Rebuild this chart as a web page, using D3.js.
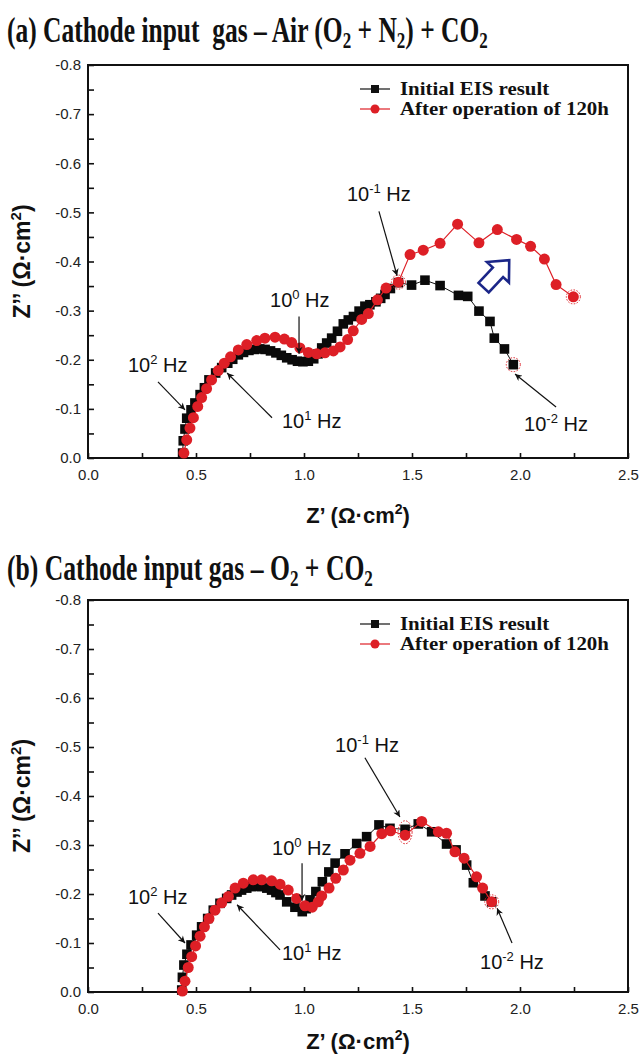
<!DOCTYPE html>
<html><head><meta charset="utf-8">
<script src="https://cdn.jsdelivr.net/npm/d3@7"></script>
<style>
html,body{margin:0;padding:0;background:#fff;}
svg{display:block;}
</style></head>
<body>
<script>
// ---------- DATA ----------
const xTicks = [0, 0.25, 0.5, 0.75, 1.0, 1.25, 1.5, 1.75, 2.0, 2.25, 2.5];
const yTicks = [0, -0.05, -0.1, -0.15, -0.2, -0.25, -0.3, -0.35, -0.4, -0.45, -0.5, -0.55, -0.6, -0.65, -0.7, -0.75, -0.8];
const seriesNames = ["Initial EIS result", "After operation of 120h"];
const freqLabels = ["2", "1", "0", "-1", "-2"];

// Panel (a): Air + CO2
const aInitRe = [0.438,0.441,0.449,0.457,0.477,0.495,0.519,0.539,0.560,0.591,0.619,0.647,0.670,0.696,0.720,0.745,0.770,0.795,0.820,0.845,0.870,0.895,0.920,0.945,0.970,0.995,1.020,1.045,1.065,1.082,1.105,1.128,1.155,1.182,1.205,1.229,1.255,1.282,1.305,1.333,1.355,1.375,1.400,1.437,1.498,1.560,1.630,1.715,1.758,1.810,1.861,1.881,1.928,1.969];
const aInitIm = [-0.010,-0.035,-0.059,-0.081,-0.098,-0.112,-0.129,-0.143,-0.159,-0.173,-0.184,-0.193,-0.201,-0.210,-0.215,-0.219,-0.221,-0.222,-0.221,-0.218,-0.214,-0.209,-0.204,-0.200,-0.197,-0.196,-0.197,-0.202,-0.212,-0.224,-0.234,-0.244,-0.258,-0.273,-0.281,-0.288,-0.299,-0.309,-0.312,-0.318,-0.325,-0.333,-0.345,-0.357,-0.352,-0.362,-0.351,-0.331,-0.329,-0.299,-0.278,-0.244,-0.222,-0.190];
const aAfterRe = [0.444,0.457,0.472,0.488,0.508,0.526,0.549,0.572,0.603,0.631,0.660,0.696,0.735,0.781,0.819,0.866,0.909,0.943,0.981,1.020,1.059,1.097,1.136,1.167,1.202,1.228,1.267,1.298,1.340,1.380,1.437,1.491,1.552,1.630,1.711,1.810,1.895,1.984,2.049,2.113,2.167,2.247];
const aAfterIm = [-0.010,-0.037,-0.061,-0.082,-0.105,-0.123,-0.141,-0.159,-0.178,-0.193,-0.206,-0.220,-0.231,-0.239,-0.244,-0.246,-0.242,-0.235,-0.224,-0.215,-0.212,-0.214,-0.218,-0.226,-0.241,-0.259,-0.282,-0.294,-0.322,-0.346,-0.358,-0.414,-0.423,-0.437,-0.476,-0.438,-0.465,-0.445,-0.431,-0.405,-0.353,-0.328];

// Panel (b): O2 + CO2
const bInitRe = [0.434,0.437,0.444,0.458,0.477,0.503,0.526,0.554,0.580,0.611,0.642,0.665,0.690,0.711,0.735,0.758,0.780,0.804,0.828,0.850,0.870,0.889,0.920,0.958,0.992,1.010,1.028,1.055,1.085,1.115,1.144,1.190,1.244,1.290,1.347,1.398,1.468,1.529,1.591,1.660,1.704,1.753,1.784,1.838,1.869];
const bInitIm = [-0.004,-0.030,-0.055,-0.077,-0.096,-0.116,-0.133,-0.150,-0.167,-0.181,-0.191,-0.198,-0.204,-0.208,-0.212,-0.215,-0.216,-0.215,-0.212,-0.208,-0.203,-0.198,-0.184,-0.173,-0.164,-0.170,-0.188,-0.205,-0.225,-0.245,-0.263,-0.282,-0.303,-0.317,-0.341,-0.334,-0.332,-0.343,-0.327,-0.302,-0.290,-0.259,-0.223,-0.196,-0.184];
const bAfterRe = [0.437,0.449,0.464,0.480,0.498,0.519,0.539,0.560,0.588,0.619,0.650,0.681,0.719,0.765,0.804,0.850,0.889,0.927,0.966,1.005,1.038,1.066,1.082,1.116,1.147,1.182,1.213,1.259,1.306,1.360,1.401,1.468,1.545,1.622,1.660,1.699,1.741,1.799,1.827,1.869];
const bAfterIm = [-0.002,-0.022,-0.050,-0.072,-0.094,-0.114,-0.133,-0.150,-0.167,-0.182,-0.195,-0.212,-0.222,-0.229,-0.229,-0.227,-0.220,-0.208,-0.191,-0.176,-0.173,-0.184,-0.196,-0.212,-0.232,-0.249,-0.269,-0.283,-0.297,-0.323,-0.329,-0.320,-0.348,-0.327,-0.324,-0.286,-0.273,-0.235,-0.212,-0.184];

// Frequency annotations: label anchor [x, y] and arrow [from, to], in data units
const aFreqText = [[0.185,-0.176],[0.898,-0.061],[0.843,-0.308],[1.199,-0.524],[2.019,-0.055]];
const aFreqArrow = [[[0.324,-0.155],[0.449,-0.098]],[[0.852,-0.082],[0.644,-0.173]],[[0.977,-0.288],[0.977,-0.212]],[[1.347,-0.502],[1.431,-0.371]],[[2.167,-0.104],[1.977,-0.171]]];
const bFreqText = [[0.185,-0.180],[0.898,-0.065],[0.852,-0.280],[1.144,-0.490],[1.815,-0.047]];
const bFreqArrow = [[[0.324,-0.161],[0.449,-0.100]],[[0.889,-0.086],[0.690,-0.178]],[[0.991,-0.263],[0.991,-0.186]],[[1.282,-0.478],[1.444,-0.357]],[[1.963,-0.100],[1.894,-0.171]]];
// highlighted (dotted-circle) points [x, y, rx, ry(px)]
const aHighlights = [[1.437,-0.358,7,7],[1.969,-0.190,7,7],[2.247,-0.328,7,7]];
const bHighlights = [[1.468,-0.326,7,11.5],[1.869,-0.184,7,7]];
const aTrendArrow = [1.898,-0.378];

// ---------- LAYOUT ----------
const W = 641, H = 1055;
const RED = "#dd1f26", BLUE = "#1b2688";
const SERIF = "'Liberation Serif','Times New Roman',serif";
const SANS = "'Liberation Sans',Arial,sans-serif";

const svg = d3.select("body").append("svg").attr("width", W).attr("height", H);
const defs = svg.append("defs");
defs.append("marker").attr("id","ah").attr("viewBox","0 0 10 10").attr("refX",10).attr("refY",5)
  .attr("markerWidth",9).attr("markerHeight",7).attr("markerUnits","userSpaceOnUse").attr("orient","auto")
  .append("path").attr("d","M0,0 L10,5 L0,10 L3,5 Z").attr("fill","#111");

function fitText(sel, targetW) {
  const w = sel.node().getComputedTextLength();
  return targetW / w;
}

function title(y, parts, targetW) {
  const g = svg.append("g");
  const t = g.append("text").attr("x", 0).attr("y", 0)
    .attr("font-family", SERIF).attr("font-weight", "bold").attr("font-size", 36)
    .style("white-space", "pre").attr("fill", "#111");
  let prevSub = false;
  parts.forEach(([s, sub]) => {
    let dy = 0;
    if (sub && !prevSub) dy = 6;
    if (!sub && prevSub) dy = -6;
    const ts = t.append("tspan").attr("dy", dy).text(s);
    if (sub) ts.attr("font-size", 24);
    prevSub = !!sub;
  });
  const k = fitText(t, targetW);
  g.attr("transform", `translate(7,${y}) scale(${k},1)`);
}

function panel(cfg) {
  const x = d3.scaleLinear().domain([0, 2.5]).range([88, 628]);
  const y = d3.scaleLinear().domain([0, -0.8]).range([cfg.bottom, cfg.top]);
  const g = svg.append("g");

  // axes
  const isMajorX = v => Math.abs(v * 2 - Math.round(v * 2)) < 1e-6;
  const isMajorY = v => Math.abs(v * 10 - Math.round(v * 10)) < 1e-6;
  const xa = g.append("g").attr("transform", `translate(0,${cfg.bottom})`)
    .call(d3.axisBottom(x).tickValues(xTicks).tickSize(-5).tickPadding(11)
      .tickFormat(v => isMajorX(v) ? v.toFixed(1) : ""));
  const ya = g.append("g").attr("transform", `translate(88,0)`)
    .call(d3.axisLeft(y).tickValues(yTicks).tickSize(-6).tickPadding(7)
      .tickFormat(v => isMajorY(v) ? (Math.abs(v) < 1e-9 ? "0.0" : v.toFixed(1)) : ""));
  [xa, ya].forEach(a => {
    a.select(".domain").remove();
    a.selectAll(".tick line").attr("stroke", "#111").attr("stroke-width", 1.6);
    a.selectAll(".tick text").attr("font-family", SANS).attr("font-size", 15).attr("fill", "#222");
  });
  g.append("rect").attr("x", 88).attr("y", cfg.top).attr("width", 540).attr("height", cfg.bottom - cfg.top)
    .attr("fill", "none").attr("stroke", "#111").attr("stroke-width", 2);

  // axis titles
  const xt = g.append("text").attr("x", 358).attr("y", cfg.xTitleY).attr("text-anchor", "middle")
    .attr("font-family", SANS).attr("font-weight", "bold").attr("font-size", 22).attr("fill", "#111");
  xt.append("tspan").text("Z\u2019 (\u03A9\u00B7cm");
  xt.append("tspan").attr("font-size", 14).attr("dy", -9).text("2");
  xt.append("tspan").attr("dy", 9).text(")");
  const ymid = (cfg.top + cfg.bottom) / 2;
  const yt = g.append("text").attr("transform", `translate(30,${ymid}) rotate(-90)`).attr("text-anchor", "middle")
    .attr("font-family", SANS).attr("font-weight", "bold").attr("font-size", 23).attr("fill", "#111");
  yt.append("tspan").text("Z\u2019\u2019 (\u03A9\u00B7cm");
  yt.append("tspan").attr("font-size", 15).attr("dy", -9).text("2");
  yt.append("tspan").attr("dy", 9).text(")");

  // data
  const line = d3.line().x(d => x(d[0])).y(d => y(d[1]));
  const init = cfg.initRe.map((v, i) => [v, cfg.initIm[i]]);
  const after = cfg.afterRe.map((v, i) => [v, cfg.afterIm[i]]);
  g.append("path").attr("d", line(init)).attr("fill", "none").attr("stroke", "#111").attr("stroke-width", 1);
  g.append("g").selectAll("rect").data(init).join("rect")
    .attr("x", d => x(d[0]) - 4.8).attr("y", d => y(d[1]) - 4.8).attr("width", 9.6).attr("height", 9.6).attr("fill", "#0a0a0a");
  g.append("path").attr("d", line(after)).attr("fill", "none").attr("stroke", RED).attr("stroke-width", 1.2);
  g.append("g").selectAll("circle").data(after).join("circle")
    .attr("cx", d => x(d[0])).attr("cy", d => y(d[1])).attr("r", 5.5).attr("fill", RED);

  // highlights
  g.append("g").selectAll("ellipse").data(cfg.highlights).join("ellipse")
    .attr("cx", d => x(d[0])).attr("cy", d => y(d[1])).attr("rx", d => d[2]).attr("ry", d => d[3])
    .attr("fill", "none").attr("stroke", RED).attr("stroke-width", 1).attr("stroke-dasharray", "1.5,1.5");

  // frequency annotations
  cfg.freqArrow.forEach(([a, b]) => {
    g.append("line").attr("x1", x(a[0])).attr("y1", y(a[1])).attr("x2", x(b[0])).attr("y2", y(b[1]))
      .attr("stroke", "#111").attr("stroke-width", 1.2).attr("marker-end", "url(#ah)");
  });
  cfg.freqText.forEach((p, i) => {
    const t = g.append("text").attr("x", x(p[0])).attr("y", y(p[1]))
      .attr("font-family", SANS).attr("font-size", 20).attr("fill", "#111");
    t.append("tspan").text("10");
    t.append("tspan").attr("font-size", 13).attr("dy", -8).text(freqLabels[i]);
    t.append("tspan").attr("dy", 8).text(" Hz");
  });

  // legend
  const ly = [cfg.top + 24, cfg.top + 44];
  const lg = g.append("g");
  [["#111", "sq"], [RED, "ci"]].forEach(([c, m], i) => {
    lg.append("line").attr("x1", 360).attr("x2", 390).attr("y1", ly[i]).attr("y2", ly[i]).attr("stroke", c).attr("stroke-width", 1.2);
    if (m === "sq") lg.append("rect").attr("x", 371).attr("y", ly[i] - 4).attr("width", 8).attr("height", 8).attr("fill", c);
    else lg.append("circle").attr("cx", 375).attr("cy", ly[i]).attr("r", 4.5).attr("fill", c);
  });
  const ltexts = seriesNames.map((s, i) => lg.append("text").attr("y", 0)
    .attr("font-family", SERIF).attr("font-weight", "bold").attr("font-size", 19).attr("fill", "#111").text(s));
  const k = fitText(ltexts[1], 209);
  ltexts.forEach((t, i) => t.attr("transform", `translate(400,${ly[i] + 6}) scale(${k},1)`));

  if (cfg.trend) {
    const [cx, cy] = [x(cfg.trend[0]), y(cfg.trend[1])];
    g.append("path").attr("d", "M-21,-7 L0,-7 L0,-15 L16.5,0 L0,15 L0,7 L-21,7 Z")
      .attr("transform", `translate(${cx},${cy}) rotate(-47)`)
      .attr("fill", "#fff").attr("stroke", BLUE).attr("stroke-width", 2.6).attr("stroke-linejoin", "miter");
  }
}

title(42, [["(a) Cathode input  gas \u2013 Air (O", 0], ["2", 1], [" + N", 0], ["2", 1], [") + CO", 0], ["2", 1]], 481);
title(580, [["(b) Cathode input gas \u2013 O", 0], ["2", 1], [" + CO", 0], ["2", 1]], 366);

panel({top: 65, bottom: 458, xTitleY: 523, initRe: aInitRe, initIm: aInitIm, afterRe: aAfterRe, afterIm: aAfterIm,
  freqText: aFreqText, freqArrow: aFreqArrow, highlights: aHighlights, trend: aTrendArrow});
panel({top: 600, bottom: 992, xTitleY: 1049, initRe: bInitRe, initIm: bInitIm, afterRe: bAfterRe, afterIm: bAfterIm,
  freqText: bFreqText, freqArrow: bFreqArrow, highlights: bHighlights, trend: null});
</script>
</body></html>
